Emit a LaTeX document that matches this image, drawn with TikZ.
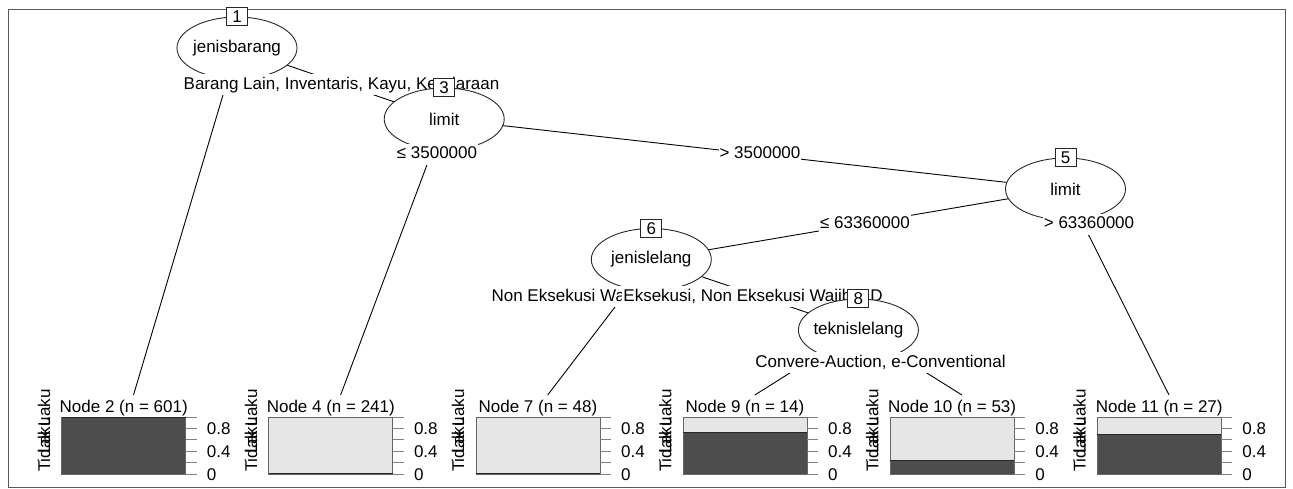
\documentclass[tikz,border=0pt]{standalone}
\usepackage{fontspec}
\setmainfont{Liberation Sans}
\usetikzlibrary{shapes.geometric,backgrounds}
\definecolor{bardark}{HTML}{4D4D4D}
\definecolor{barlight}{HTML}{E6E6E6}

\begin{document}
\begin{tikzpicture}[x=1pt, y=-1pt, font=\fontsize{17}{20}\selectfont]
% Define styles
\tikzstyle{splitnode} = [ellipse, draw=black!85, fill=white, line width=0.9pt, minimum width=120pt, minimum height=62pt, inner xsep=-5pt, inner ysep=0pt]
\tikzstyle{idbox} = [rectangle, draw=black!85, fill=white, line width=0.9pt, minimum width=21pt, minimum height=18pt, inner sep=0pt, text height=12.2pt, text depth=0pt]
\tikzstyle{edgelabel} = [rectangle, fill=white, inner xsep=1pt, inner ysep=0pt, minimum height=21pt, text height=12.5pt, text depth=3.5pt]
\tikzstyle{link} = [black, line width=0.9pt]
\tikzstyle{leaftitle} = [inner sep=0pt, anchor=base]
\tikzstyle{ticklabel} = [inner sep=0pt, anchor=west, text height=12.2pt, text depth=0pt]
\tikzstyle{classlabel} = [inner sep=0pt, anchor=base, rotate=90]

\useasboundingbox (0,0) rectangle (1293,488);
\draw [black!65, line width=1pt] (8.6,9.3) rectangle (1285,487);

% Place nodes
\node (n1) [splitnode] at (237,48) {jenisbarang};
\node (id1) [idbox] at (n1.north) {1};
\node (e1) [edgelabel] at (341.5,84.6) {Barang Lain, Inventaris, Kayu, Kendaraan};
\node (n3) [splitnode] at (444.2,119) {limit};
\node (id3) [idbox] at (n3.north) {3};
\node (e3l) [edgelabel] at (437,154.3) {≤ 3500000};
\node (e3r) [edgelabel] at (760,154.3) {> 3500000};
\node (n5) [splitnode] at (1065.5,189) {limit};
\node (id5) [idbox] at (n5.north) {5};
\node (e5l) [edgelabel] at (865,224.1) {≤ 63360000};
\node (e5r) [edgelabel] at (1089,224.1) {> 63360000};
\node (n6) [splitnode] at (651.3,259.5) {jenislelang};
\node (id6) [idbox] at (n6.north) {6};
\node (e6l) [edgelabel, anchor=west] at (490.4,296.6) {Non Eksekusi Wa};
\node (e6r) [edgelabel] at (753,296.6) {Eksekusi, Non Eksekusi Wajib MD};
\node (n8) [splitnode] at (858.4,330) {teknislelang};
\node (id8) [idbox] at (n8.north) {8};
\node (e8) [edgelabel] at (880.5,362.6) {Convere-Auction, e-Conventional};

% Terminal panels
\foreach \k/\id/\n/\p in {0/2/601/0.99, 1/4/241/0.015, 2/7/48/0.021, 3/9/14/0.73, 4/10/53/0.245, 5/11/27/0.70} {
  \pgfmathsetmacro{\bl}{61.7+207.1*\k}
  \pgfmathsetmacro{\pdark}{474.3-57.3*\p}
  \fill [barlight] ({\bl},417) rectangle ({\bl+124},474.3);
  \fill [bardark] ({\bl},\pdark) rectangle ({\bl+124},474.3);
  \draw [black!60, line width=0.8pt] ({\bl},417) rectangle ({\bl+124},474.3);
  \draw [black!85, line width=0.8pt] ({\bl},\pdark) -- ({\bl+124},\pdark);
  \foreach \t in {0,0.2,0.4,0.6,0.8,1}
    \draw [black!50, line width=0.9pt] ({\bl+124},{474.3-57.3*\t}) -- ({\bl+135},{474.3-57.3*\t});
  \node [ticklabel] at ({\bl+145},428.5) {0.8};
  \node [ticklabel] at ({\bl+145},451.4) {0.4};
  \node [ticklabel] at ({\bl+145},474.3) {0};
  \node (title\id) [leaftitle] at ({\bl+62},412) {Node \id\ (n = \n)};
  \node [classlabel] at ({\bl-11.7},430.5) {Tidak Laku};
  \node [classlabel] at ({\bl-11.7},435.5) {Laku};
  \coordinate (leaf\id) at ({\bl+71.8},395);
}

% Draw edges
\begin{pgfonlayer}{background}
\draw [link] (n1.center) -- (leaf2);
\draw [link] (n1.center) -- (n3.center);
\draw [link] (n3.center) -- (leaf4);
\draw [link] (n3.center) -- (n5.center);
\draw [link] (n5.center) -- (n6.center);
\draw [link] (n5.center) -- (leaf11);
\draw [link] (n6.center) -- (leaf7);
\draw [link] (n6.center) -- (n8.center);
\draw [link] (n8.center) -- (leaf9);
\draw [link] (n8.center) -- (leaf10);
\end{pgfonlayer}
\end{tikzpicture}
\end{document}
